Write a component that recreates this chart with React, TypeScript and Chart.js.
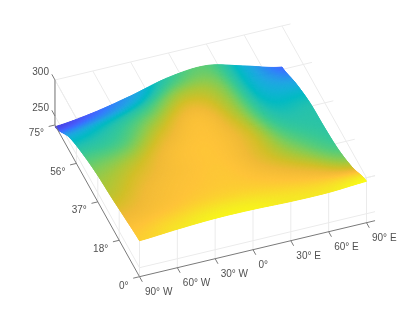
import React, { useEffect, useRef } from "react";
import { Chart, registerables } from "chart.js";

Chart.register(...registerables);

// Surface readings: kelvin at each latitude (rows) and longitude (columns)
const surfaceLons = [-90, -60, -30, 0, 30, 60, 90];
const surfaceLats = [75, 62.5, 50, 37.5, 25, 12.5, 0];
const temp75 = [235, 241.7, 252.8, 266, 270, 257, 243];
const temp62 = [256, 261, 267.5, 276.5, 273.9, 259, 255];
const temp50 = [267, 269, 277.8, 283.8, 276.5, 263.5, 263];
const temp37 = [274, 277.8, 283.8, 285.4, 279.8, 269, 265];
const temp25 = [278, 282.5, 285, 285.8, 281, 275, 269];
const temp12 = [283, 285, 287, 287.4, 285.8, 283, 279];
const temp00 = [287.5, 291, 293.5, 293.5, 292, 292, 295];
const temperature = [temp75, temp62, temp50, temp37, temp25, temp12, temp00];

// Axis ticks
const lonTicks = [-90, -60, -30, 0, 30, 60, 90];
const lonLabels = ["90° W", "60° W", "30° W", "0°", "30° E", "60° E", "90° E"];
const latTicks = [0, 18, 37, 56, 75];
const latLabels = ["0°", "18°", "37°", "56°", "75°"];
const zTicks = [250, 300];
const zLabels = ["250", "300"];

const LON_MIN = -90;
const LON_MAX = 96.8;
const LAT_MIN = 0;
const LAT_MAX = 75;
const Z_FLOOR = 237.5;
const Z_TOP = 300;
const C_MIN = 229;
const C_MAX = 295;

const parula: number[][] = [
  [62, 38, 168], [67, 50, 203], [71, 65, 229], [72, 82, 244], [69, 99, 253],
  [56, 117, 254], [46, 135, 247], [39, 150, 235], [32, 165, 227], [18, 177, 214],
  [2, 186, 195], [36, 193, 174], [55, 200, 151], [87, 204, 122], [129, 204, 89],
  [171, 199, 57], [209, 191, 39], [240, 186, 54], [254, 195, 56], [250, 214, 45],
  [245, 233, 36], [249, 251, 21],
];

function colorFor(z: number): string {
  const t = Math.max(0, Math.min(1, (z - C_MIN) / (C_MAX - C_MIN))) * (parula.length - 1);
  const i = Math.min(parula.length - 2, Math.floor(t));
  const f = t - i;
  const a = parula[i];
  const b = parula[i + 1];
  return `rgb(${a[0] + (b[0] - a[0]) * f},${a[1] + (b[1] - a[1]) * f},${a[2] + (b[2] - a[2]) * f})`;
}

// Orthographic view of the box, in the page plane used by the chart's x and y scales
function project(lon: number, lat: number, z: number) {
  const dl = lon + 90;
  return {
    x: 139.5 + 1.261 * dl - 1.127 * lat,
    y: 276.7 - 0.3 * dl - 2.023 * lat - 0.72 * (z - Z_FLOOR),
  };
}

function catmull(p: number[], u: number): number {
  const n = p.length - 1;
  const i = Math.min(n - 1, Math.floor(u));
  const f = u - i;
  const p0 = p[Math.max(0, i - 1)];
  const p1 = p[i];
  const p2 = p[i + 1];
  const p3 = p[Math.min(n, i + 2)];
  return 0.5 * (2 * p1 + (p2 - p0) * f + (2 * p0 - 5 * p1 + 4 * p2 - p3) * f * f + (3 * p1 - p0 - 3 * p2 + p3) * f * f * f);
}

function sampleSurface(v: number, u: number): number {
  const col = temperature.map((row) => catmull(row, u));
  return catmull(col, v);
}

function seg(points: { x: number; y: number }[], color: string, width: number) {
  return { data: points, showLine: true, borderColor: color, borderWidth: width, pointRadius: 0, fill: false, clip: false as any };
}

const GRID = "#ebebeb";
const AXIS = "#7a7a7a";

function gridDatasets() {
  const out: any[] = [];
  for (const lon of lonTicks) {
    out.push(seg([project(lon, LAT_MAX, Z_TOP), project(lon, LAT_MIN, Z_TOP)], GRID, 1));
    out.push(seg([project(lon, LAT_MIN, Z_FLOOR), project(lon, LAT_MIN, Z_TOP)], GRID, 1));
  }
  for (const lat of latTicks) {
    out.push(seg([project(LON_MIN, lat, Z_TOP), project(LON_MAX, lat, Z_TOP)], GRID, 1));
    out.push(seg([project(LON_MIN, lat, Z_FLOOR), project(LON_MIN, lat, Z_TOP)], GRID, 1));
  }
  for (const z of zTicks) {
    out.push(seg([project(LON_MIN, LAT_MAX, z), project(LON_MIN, LAT_MIN, z), project(LON_MAX, LAT_MIN, z)], GRID, 1));
  }
  return out;
}

function axisDatasets() {
  const out: any[] = [];
  out.push(seg([project(LON_MIN, LAT_MIN, Z_FLOOR), project(LON_MAX, LAT_MIN, Z_FLOOR)], AXIS, 1));
  out.push(seg([project(LON_MIN, LAT_MAX, Z_FLOOR), project(LON_MIN, LAT_MIN, Z_FLOOR)], AXIS, 1));
  out.push(seg([project(LON_MIN, LAT_MAX, Z_FLOOR), project(LON_MIN, LAT_MAX, Z_TOP)], AXIS, 1));
  for (const lon of lonTicks) {
    out.push(seg([project(lon, LAT_MIN, Z_FLOOR), project(lon, -2.5, Z_FLOOR)], AXIS, 1));
  }
  for (const lat of latTicks) {
    out.push(seg([project(LON_MIN, lat, Z_FLOOR), project(-95, lat, Z_FLOOR)], AXIS, 1));
  }
  for (const z of zTicks) {
    out.push(seg([project(LON_MIN, LAT_MAX, z), project(LON_MIN, LAT_MAX + 2.8, z)], AXIS, 1));
  }
  return out;
}

const surfacePoints = surfaceLats.flatMap((lat, i) =>
  surfaceLons.map((lon, j) => project(lon, lat, temperature[i][j]))
);

const surfacePlugin = {
  id: "surface",
  afterDatasetDraw(chart: any, args: any) {
    if (chart.data.datasets[args.index].label !== "surface") return;
    const { ctx, scales } = chart;
    const px = (p: { x: number; y: number }) => [scales.x.getPixelForValue(p.x), scales.y.getPixelForValue(p.y)];
    const N = 240;
    const rows = surfaceLats.length - 1;
    const cols = surfaceLons.length - 1;
    const at = (a: number, b: number) => {
      const v = (a / N) * rows;
      const u = (b / N) * cols;
      const lat = LAT_MAX + (LAT_MIN - LAT_MAX) * (a / N);
      const lon = surfaceLons[0] + (surfaceLons[cols] - surfaceLons[0]) * (b / N);
      const z = sampleSurface(v, u);
      return { p: px(project(lon, lat, z)), z };
    };
    let prev: any[] = [];
    for (let b = 0; b <= N; b++) prev.push(at(0, b));
    ctx.save();
    ctx.lineWidth = 1;
    ctx.lineJoin = "round";
    for (let a = 1; a <= N; a++) {
      const cur: any[] = [];
      for (let b = 0; b <= N; b++) cur.push(at(a, b));
      for (let b = 0; b < N; b++) {
        const q = [prev[b], prev[b + 1], cur[b + 1], cur[b]];
        const c = colorFor((q[0].z + q[1].z + q[2].z + q[3].z) / 4);
        ctx.fillStyle = c;
        ctx.strokeStyle = c;
        ctx.beginPath();
        ctx.moveTo(q[0].p[0], q[0].p[1]);
        for (let k = 1; k < 4; k++) ctx.lineTo(q[k].p[0], q[k].p[1]);
        ctx.closePath();
        ctx.fill();
        ctx.stroke();
      }
      prev = cur;
    }
    ctx.restore();
  },
};

const labelPlugin = {
  id: "tickText",
  afterDraw(chart: any) {
    const { ctx, scales } = chart;
    const put = (t: string, p: { x: number; y: number }, dx: number, dy: number, align: CanvasTextAlign) => {
      ctx.textAlign = align;
      ctx.fillText(t, scales.x.getPixelForValue(p.x) + dx, scales.y.getPixelForValue(p.y) + dy);
    };
    ctx.save();
    ctx.font = '10px "Liberation Sans", Arial, sans-serif';
    ctx.fillStyle = "#505050";
    ctx.textBaseline = "middle";
    lonTicks.forEach((lon, i) => put(lonLabels[i], project(lon, LAT_MIN, Z_FLOOR), 5.5, 16, "left"));
    latTicks.forEach((lat, i) => put(latLabels[i], project(LON_MIN, lat, Z_FLOOR), -11, lat === 0 ? 10 : 8.5, "right"));
    zTicks.forEach((z, i) => put(zLabels[i], project(LON_MIN, LAT_MAX, z), -6, -8, "right"));
    ctx.restore();
  },
};

export default function App() {
  const ref = useRef<HTMLCanvasElement | null>(null);
  useEffect(() => {
    if (!ref.current) return;
    const chart = new Chart(ref.current, {
      type: "scatter",
      data: {
        datasets: [
          ...axisDatasets(),
          { label: "surface", data: surfacePoints, pointRadius: 0, showLine: false, clip: false as any },
          ...gridDatasets(),
        ],
      } as any,
      options: {
        animation: false,
        responsive: false,
        layout: { padding: 0 },
        plugins: { legend: { display: false }, tooltip: { enabled: false }, title: { display: false } },
        scales: {
          x: { type: "linear", min: 0, max: 415, display: false },
          y: { type: "linear", min: 0, max: 312, reverse: true, display: false },
        },
      },
      plugins: [surfacePlugin, labelPlugin],
    } as any);
    return () => chart.destroy();
  }, []);
  return (
    <div style={{ position: "fixed", left: 0, top: 0, width: 415, height: 312, background: "#fff" }}>
      <canvas ref={ref} width={415} height={312} style={{ display: "block" }} />
    </div>
  );
}
